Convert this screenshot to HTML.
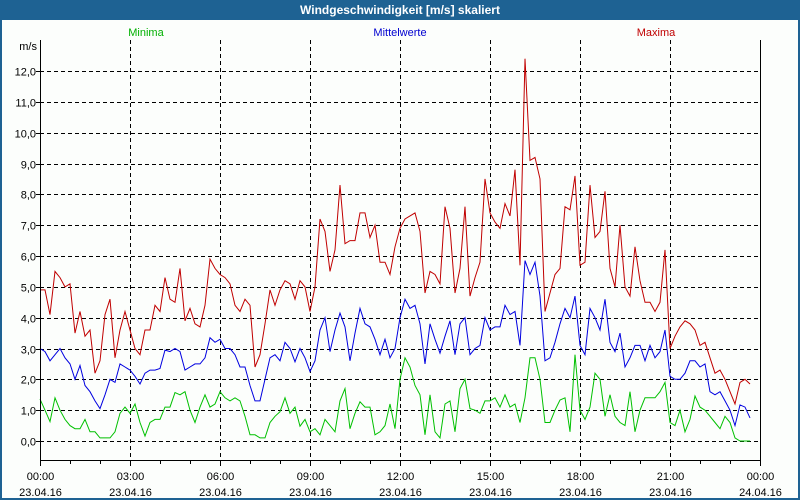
<!DOCTYPE html>
<html><head><meta charset="utf-8"><style>
html,body{margin:0;padding:0;background:#fff}
svg{display:block;font-family:"Liberation Sans",Arial,sans-serif}
</style></head><body>
<svg id="chart" width="800" height="500" viewBox="0 0 800 500">
<rect x="0" y="0" width="800" height="500" fill="#1e6293"/>
<rect x="2" y="20" width="796" height="478" fill="#fcfefc"/>
<text x="400" y="14" text-anchor="middle" fill="#fff" font-size="12" font-weight="bold">Windgeschwindigkeit [m/s] skaliert</text>
<text x="146" y="36" text-anchor="middle" fill="#00b000" font-size="11">Minima</text>
<text x="400" y="36" text-anchor="middle" fill="#0000d0" font-size="11">Mittelwerte</text>
<text x="656" y="36" text-anchor="middle" fill="#c00000" font-size="11">Maxima</text>
<text x="37" y="50" text-anchor="end" fill="#000" font-size="11">m/s</text>
<g id="grid"></g>
<g id="series"></g>
<g id="axes"></g>
</svg>
<script>
const yTicks=[0,1,2,3,4,5,6,7,8,9,10,11,12];
const yTickLabels=["0,0","1,0","2,0","3,0","4,0","5,0","6,0","7,0","8,0","9,0","10,0","11,0","12,0"];
const xTickHours=[0,3,6,9,12,15,18,21,24];
const xTickTimes=["00:00","03:00","06:00","09:00","12:00","15:00","18:00","21:00","00:00"];
const xTickDates=["23.04.16","23.04.16","23.04.16","23.04.16","23.04.16","23.04.16","23.04.16","23.04.16","24.04.16"];
const stepMinutes=10;
const maxima=[4.9,4.9,4.1,5.5,5.3,5.0,5.1,3.5,4.2,3.4,3.6,2.2,2.6,4.1,4.6,2.7,3.6,4.2,3.6,3.0,2.8,3.6,3.6,4.4,4.2,5.3,4.6,4.5,5.6,3.9,4.3,3.8,3.7,4.4,5.9,5.6,5.4,5.3,5.1,4.4,4.2,4.6,4.4,2.4,2.8,3.8,4.9,4.4,4.9,5.2,5.1,4.6,5.2,5.0,4.2,5.0,7.2,6.8,5.5,6.2,8.3,6.4,6.5,6.5,7.4,7.4,6.6,7.0,5.8,5.8,5.4,6.3,6.9,7.2,7.3,7.4,6.8,4.8,5.5,5.4,5.1,7.6,6.9,4.8,5.6,7.6,4.7,5.3,5.8,8.5,7.4,7.1,6.9,7.7,7.3,8.8,5.7,12.4,9.1,9.2,8.5,4.2,4.8,5.4,5.6,7.6,7.5,8.6,5.7,5.8,8.3,6.6,6.8,8.1,5.6,5.0,7.0,5.0,4.7,6.3,5.2,4.5,4.5,4.2,4.5,6.2,3.0,3.4,3.7,3.9,3.8,3.6,3.1,3.2,2.7,2.2,2.3,2.0,1.6,1.2,1.9,2.0,1.85];
const mittelwerte=[3.0,2.9,2.6,2.8,3.0,2.7,2.5,2.0,2.45,1.8,1.6,1.3,1.05,1.5,2.0,1.9,2.5,2.4,2.3,2.1,1.85,2.2,2.3,2.3,2.35,2.95,2.9,3.0,2.9,2.3,2.4,2.5,2.5,2.7,3.35,3.2,3.3,3.0,3.0,2.8,2.4,2.4,1.8,1.3,1.3,2.0,2.7,2.8,2.6,3.2,3.0,2.57,3.0,2.7,2.25,2.6,3.6,4.0,2.9,3.6,4.15,3.7,2.6,3.5,4.3,3.8,3.7,3.3,2.8,3.3,2.7,3.0,4.0,4.6,4.3,4.4,3.8,2.5,3.8,3.3,2.85,3.4,3.9,2.8,3.8,4.0,2.8,3.0,3.1,4.0,3.6,3.7,3.7,4.4,4.1,4.2,3.1,5.85,5.4,5.8,4.7,2.6,2.7,3.2,3.8,4.3,4.0,4.7,3.1,2.8,4.3,4.0,3.6,4.6,3.2,2.9,3.5,2.4,2.7,3.1,3.1,2.6,3.1,2.7,2.9,3.6,2.1,2.0,2.0,2.2,2.6,2.6,2.4,2.5,1.6,1.5,1.6,1.3,1.0,0.5,1.17,1.1,0.75];
const minima=[1.36,1.0,0.63,1.4,1.0,0.7,0.5,0.4,0.4,0.7,0.3,0.3,0.1,0.1,0.1,0.3,0.9,1.1,0.9,1.2,0.6,0.16,0.6,0.7,0.7,1.1,1.1,1.57,1.5,1.6,1.0,0.6,1.1,1.5,1.1,1.2,1.6,1.4,1.3,1.4,1.3,0.8,0.2,0.2,0.1,0.1,0.6,0.8,0.95,1.4,0.9,1.1,0.48,0.7,0.3,0.4,0.2,0.7,0.5,0.3,1.3,1.7,0.4,0.9,1.27,1.1,1.1,0.2,0.3,0.5,1.2,0.4,2.0,2.7,2.4,1.8,1.5,0.2,1.5,0.3,0.1,1.2,1.3,0.3,1.7,2.0,1.05,1.0,0.9,1.3,1.3,1.4,1.1,1.5,1.1,1.2,0.6,1.4,2.7,2.7,2.0,0.6,0.6,1.0,1.33,1.4,0.3,2.8,1.0,0.7,1.1,2.2,2.0,0.8,1.5,0.8,0.6,0.5,1.6,0.3,1.0,1.4,1.4,1.4,1.6,1.9,0.6,0.5,1.0,0.3,0.7,1.46,1.1,1.0,0.8,0.6,0.4,0.8,0.6,0.1,0.0,0.0,0.0];

const NS="http://www.w3.org/2000/svg";
const PL=40,PR=760,PT=40,PB=460;
function xScale(hours){return PL+hours/24*(PR-PL);}
function yScale(v){return 441-v*30.83;}
function mk(tag,attrs,parent){const e=document.createElementNS(NS,tag);for(const k in attrs)e.setAttribute(k,attrs[k]);parent.appendChild(e);return e;}
const grid=document.getElementById('grid'),axes=document.getElementById('axes'),series=document.getElementById('series');

yTicks.forEach((t,i)=>{
  const y=Math.round(yScale(t))+0.5;
  const l=mk('line',{x1:PL,x2:PR,y1:y,y2:y,stroke:'#000','stroke-width':1,'stroke-dasharray':'4,3'},grid);
  
  
  const tk=mk('line',{x1:PL-4,x2:PL,y1:y,y2:y,stroke:'#000'},axes);
  
  
  const tx=mk('text',{x:36,y:y+4,'text-anchor':'end','font-size':11,fill:'#000'},axes);
  tx.textContent=yTickLabels[i];
  
  
});
xTickHours.forEach((h,i)=>{
  const x=Math.round(xScale(h))+0.5;
  if(i>0&&i<xTickHours.length-1){
    const l=mk('line',{x1:x,x2:x,y1:PT,y2:PB,stroke:'#000','stroke-dasharray':'4,3'},grid);
    
    
  }
  const t1=mk('text',{x:x,y:480,'text-anchor':'middle','font-size':11,fill:'#000'},axes);
  t1.textContent=xTickTimes[i];
  
  
  const t2=mk('text',{x:x,y:496,'text-anchor':'middle','font-size':11,fill:'#000'},axes);
  t2.textContent=xTickDates[i];
  
  
});
for(let h=0;h<=24;h++){
  const x=Math.round(xScale(h))+0.5;
  const tk=mk('line',{x1:x,x2:x,y1:PB,y2:PB+(h%3===0?6:4),stroke:'#000'},axes);
  
  
}
const ax1=mk('line',{x1:PL+0.5,x2:PL+0.5,y1:PT,y2:PB,stroke:'#000'},axes);


const ax2=mk('line',{x1:PL,x2:PR,y1:PB+0.5,y2:PB+0.5,stroke:'#000'},axes);


const ax3=mk('line',{x1:PR+0.5,x2:PR+0.5,y1:PT,y2:PB,stroke:'#000'},axes);



function drawSeries(vals,color,name){
  const pts=vals.map((v,i)=>xScale(i*stepMinutes/60).toFixed(1)+','+yScale(v).toFixed(1)).join(' ');
  const p=mk('polyline',{points:pts,fill:'none',stroke:color,'stroke-width':1},series);
  
  
}
drawSeries(maxima,'#c00000','line-maxima');
drawSeries(mittelwerte,'#0000e0','line-mittelwerte');
drawSeries(minima,'#00c000','line-minima');
</script>
</body></html>
